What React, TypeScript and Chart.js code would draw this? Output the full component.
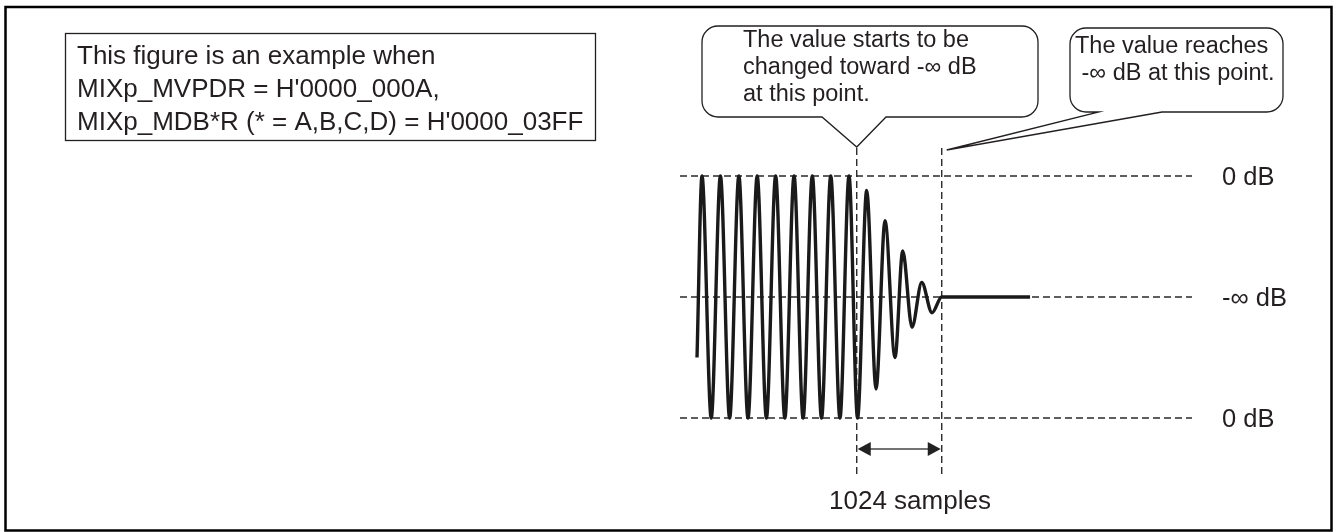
import { useEffect, useRef } from "react";
import { Chart, registerables } from "chart.js";

Chart.register(...registerables);

// ---- data (x in samples, y in relative level: +1 / -1 = 0 dB peaks, 0 = -inf dB) ----
const sampleTimes = [
  -1924, -1864, -1753, -1642, -1531, -1420, -1310, -1199, -1088, -977, -866, -755, -646,
  -535, -424, -313, -202, -93, 10, 120, 233, 341, 461, 554, 666, 783, 907, 1024, 2088,
];
const levels = [
  -0.5, 1, -1, 1, -1, 1, -1, 1, -1, 1, -1, 1, -1, 1, -1, 1, -1, 1, -1, 0.88, -0.76, 0.63,
  -0.5, 0.38, -0.25, 0.12, -0.13, 0, 0,
];
const levelTicks = [1, 0, -1];
const levelLabels = ["0 dB", "-∞ dB", "0 dB"];
const fadeStart = 0;
const fadeEnd = 1024;
const fadeLabel = "1024 samples";
const xRange = [-2129, 4039];
const noteLines = [
  "This figure is an example when",
  "MIXp_MVPDR = H'0000_000A,",
  "MIXp_MDB*R (* = A,B,C,D) = H'0000_03FF",
];
const startLines = ["The value starts to be", "changed toward -∞ dB", "at this point."];
const endLines = ["The value reaches", " -∞ dB at this point."];

const FAM = "'Liberation Sans', Arial, Helvetica, sans-serif";
const INK = "#231f20";

function roundedCallout(
  ctx: CanvasRenderingContext2D,
  x: number, y: number, w: number, h: number, r: number,
  pRight: number, pLeft: number, tipX: number, tipY: number
) {
  ctx.beginPath();
  ctx.moveTo(x + r, y);
  ctx.lineTo(x + w - r, y);
  ctx.arcTo(x + w, y, x + w, y + r, r);
  ctx.lineTo(x + w, y + h - r);
  ctx.arcTo(x + w, y + h, x + w - r, y + h, r);
  ctx.lineTo(pRight, y + h);
  ctx.lineTo(tipX, tipY);
  ctx.lineTo(pLeft, y + h);
  ctx.lineTo(x + r, y + h);
  ctx.arcTo(x, y + h, x, y + h - r, r);
  ctx.lineTo(x, y + r);
  ctx.arcTo(x, y, x + r, y, r);
  ctx.closePath();
  ctx.fillStyle = "#fff";
  ctx.fill();
  ctx.stroke();
}

const decor = {
  id: "decor",
  beforeDatasetsDraw(chart: any) {
    const { ctx, scales, chartArea } = chart;
    const xs = scales.x;
    const ys = scales.y;
    ctx.save();
    ctx.strokeStyle = "#2a2a2a";
    ctx.lineWidth = 1.4;
    ctx.setLineDash([7, 4]);
    levelTicks.forEach((v) => {
      const y = Math.round(ys.getPixelForValue(v));
      ctx.beginPath();
      ctx.moveTo(chartArea.left, y);
      ctx.lineTo(chartArea.right, y);
      ctx.stroke();
    });
    [fadeStart, fadeEnd].forEach((t) => {
      const x = xs.getPixelForValue(t);
      ctx.beginPath();
      ctx.moveTo(x, 148);
      ctx.lineTo(x, 478);
      ctx.stroke();
    });
    ctx.restore();
  },
  afterDraw(chart: any) {
    const { ctx, scales } = chart;
    const xs = scales.x;
    const ys = scales.y;
    const x0 = xs.getPixelForValue(fadeStart);
    const x1 = xs.getPixelForValue(fadeEnd);
    ctx.save();
    // outer frame
    ctx.strokeStyle = "#000";
    ctx.lineWidth = 2.5;
    ctx.strokeRect(5.5, 7, 1326, 523.5);

    ctx.textBaseline = "alphabetic";
    ctx.textAlign = "left";

    // note box
    ctx.lineWidth = 1.3;
    ctx.strokeStyle = INK;
    ctx.strokeRect(65.5, 33.5, 530, 107);
    ctx.fillStyle = INK;
    ctx.font = "26px " + FAM;
    noteLines.forEach((s, i) => ctx.fillText(s, 77, 64 + i * 33));

    // callout 1
    ctx.lineWidth = 1.3;
    roundedCallout(ctx, 702, 26, 336, 91, 16, 886, 822, x0, 147);
    ctx.fillStyle = INK;
    ctx.font = "23.5px " + FAM;
    startLines.forEach((s, i) => ctx.fillText(s, 743, 47 + i * 27));

    // callout 2
    roundedCallout(ctx, 1070, 28, 213, 84, 16, 1162, 1099, x1 + 5, 150);
    ctx.fillStyle = INK;
    endLines.forEach((s, i) => ctx.fillText(s, 1075, 53 + i * 27));

    // level labels
    ctx.font = "25.5px " + FAM;
    levelTicks.forEach((v, i) => ctx.fillText(levelLabels[i], 1222, ys.getPixelForValue(v) + 9));

    // arrow
    const ay = 449;
    ctx.strokeStyle = "#444";
    ctx.lineWidth = 1.5;
    ctx.beginPath();
    ctx.moveTo(x0 + 10, ay);
    ctx.lineTo(x1 - 10, ay);
    ctx.stroke();
    ctx.fillStyle = "#222";
    ctx.beginPath();
    ctx.moveTo(x0 + 1, ay);
    ctx.lineTo(x0 + 14, ay - 7);
    ctx.lineTo(x0 + 14, ay + 7);
    ctx.closePath();
    ctx.fill();
    ctx.beginPath();
    ctx.moveTo(x1 - 1, ay);
    ctx.lineTo(x1 - 14, ay - 7);
    ctx.lineTo(x1 - 14, ay + 7);
    ctx.closePath();
    ctx.fill();

    ctx.fillStyle = INK;
    ctx.textAlign = "center";
    ctx.font = "26px " + FAM;
    ctx.fillText(fadeLabel, 910, 509);
    ctx.restore();
  },
};

export default function App() {
  const ref = useRef<HTMLCanvasElement | null>(null);
  useEffect(() => {
    if (!ref.current) return;
    const chart = new Chart(ref.current, {
      type: "line",
      data: {
        datasets: [
          {
            data: sampleTimes.map((t, i) => ({ x: t, y: levels[i] })),
            borderColor: "#1a1a1a",
            borderWidth: 3.4,
            pointRadius: 0,
            cubicInterpolationMode: "monotone",
            clip: false as any,
            fill: false,
          },
        ],
      },
      options: {
        responsive: false,
        maintainAspectRatio: false,
        animation: false,
        devicePixelRatio: 1,
        layout: { padding: { left: 680, right: 142, top: 176, bottom: 114 } },
        plugins: { legend: { display: false }, tooltip: { enabled: false } },
        scales: {
          x: { type: "linear", min: xRange[0], max: xRange[1], display: false },
          y: { type: "linear", min: -1, max: 1, display: false },
        },
      },
      plugins: [decor],
    });
    return () => chart.destroy();
  }, []);
  return (
    <div style={{ position: "fixed", left: 0, top: 0, width: 1334, height: 532, background: "#fff" }}>
      <canvas ref={ref} width={1334} height={532} style={{ display: "block", width: 1334, height: 532 }} />
    </div>
  );
}
